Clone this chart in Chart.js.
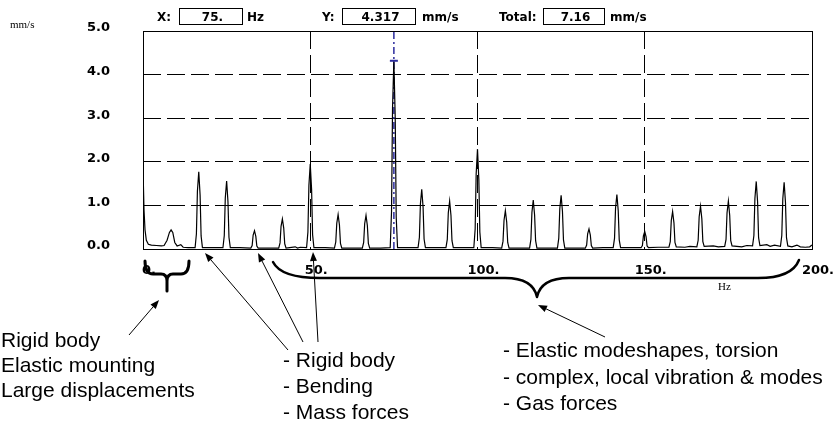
<!DOCTYPE html>
<html>
<head>
<meta charset="utf-8">
<script src="https://cdn.jsdelivr.net/npm/chart.js@4/dist/chart.umd.min.js"></script>
<style>
  html, body { margin: 0; padding: 0; background: #fff; }
</style>
</head>
<body>
<canvas id="spectrum" width="835" height="425"></canvas>
<script>
// Readout values shown in the header boxes
const cursorHz = 75;
const cursorMms = 4.317;
const totalMms = 7.16;

// Axis ticks
const xTicks = [0, 50, 100, 150, 200];
const yTicks = [0, 1, 2, 3, 4, 5];

// Spectrum trace (Hz / mm/s), roughly one row per peak
const spectrumHz = [
  0, 0.3, 0.6, 1.0, 1.6, 2.5, 4.0, 5.5,
  6.3, 7.2, 7.9, 8.4, 8.9, 9.5, 10.2, 11.3, 12.0, 13.5,
  15.57, 15.97, 16.27, 16.67, 17.07, 17.37, 17.77, 20.5,
  23.9, 24.3, 24.6, 25.0, 25.4, 25.7, 26.1, 29.0,
  32.23, 32.63, 32.93, 33.33, 33.73, 34.03, 34.43, 37.5,
  40.57, 40.97, 41.27, 41.67, 42.07, 42.37, 42.77, 45.5, 46.2, 47.0,
  48.9, 49.3, 49.6, 50.0, 50.4, 50.7, 51.1, 54.5,
  57.23, 57.63, 57.93, 58.33, 58.73, 59.03, 59.43, 62.5,
  65.57, 65.97, 66.27, 66.67, 67.07, 67.37, 67.77, 71.0,
  73.9, 74.3, 74.6, 75.0, 75.4, 75.7, 76.1, 79.0,
  82.23, 82.63, 82.93, 83.33, 83.73, 84.03, 84.43, 87.5,
  90.57, 90.97, 91.27, 91.67, 92.07, 92.37, 92.77, 96.0,
  98.9, 99.3, 99.6, 100.0, 100.4, 100.7, 101.1, 104.5,
  107.23, 107.63, 107.93, 108.33, 108.73, 109.03, 109.43, 112.5,
  115.57, 115.97, 116.27, 116.67, 117.07, 117.37, 117.77, 121.0,
  123.9, 124.3, 124.6, 125.0, 125.4, 125.7, 126.1, 129.5,
  132.23, 132.63, 132.93, 133.33, 133.73, 134.03, 134.43, 137.5,
  140.57, 140.97, 141.27, 141.67, 142.07, 142.37, 142.77, 146.0,
  148.9, 149.3, 149.6, 150.0, 150.4, 150.7, 151.1, 154.0,
  157.23, 157.63, 157.93, 158.33, 158.73, 159.03, 159.43, 162.0, 163.5,
  165.57, 165.97, 166.27, 166.67, 167.07, 167.37, 167.77, 170.5, 172.0,
  173.9, 174.3, 174.6, 175.0, 175.4, 175.7, 176.1, 179.0, 180.5,
  182.23, 182.63, 182.93, 183.33, 183.73, 184.03, 184.43, 186.5, 187.5, 188.8,
  190.57, 190.97, 191.27, 191.67, 192.07, 192.37, 192.77, 194.0, 195.5, 196.5, 198.0, 199.3, 200.0
];
const spectrumMms = [
  1.85, 0.90, 0.44, 0.20, 0.11, 0.09, 0.08, 0.07,
  0.08, 0.20, 0.38, 0.44, 0.38, 0.15, 0.07, 0.10, 0.04, 0.03,
  0.03, 0.35, 1.33, 1.77, 1.24, 0.30, 0.03, 0.03,
  0.03, 0.31, 1.17, 1.56, 1.09, 0.27, 0.03, 0.03,
  0.02, 0.08, 0.32, 0.42, 0.29, 0.07, 0.02, 0.02,
  0.02, 0.14, 0.52, 0.69, 0.48, 0.12, 0.02, 0.05, 0.02, 0.04,
  0.03, 0.39, 1.46, 1.95, 1.37, 0.33, 0.03, 0.03,
  0.02, 0.16, 0.59, 0.79, 0.55, 0.13, 0.02, 0.02,
  0.02, 0.15, 0.58, 0.77, 0.54, 0.13, 0.02, 0.02,
  0.03, 0.86, 3.24, 4.32, 3.02, 0.73, 0.03, 0.03,
  0.03, 0.27, 1.03, 1.37, 0.96, 0.23, 0.03, 0.03,
  0.03, 0.22, 0.83, 1.10, 0.77, 0.19, 0.03, 0.03,
  0.03, 0.46, 1.72, 2.29, 1.60, 0.39, 0.03, 0.03,
  0.02, 0.18, 0.66, 0.88, 0.62, 0.15, 0.02, 0.02,
  0.02, 0.22, 0.84, 1.12, 0.78, 0.19, 0.02, 0.02,
  0.02, 0.25, 0.92, 1.23, 0.86, 0.21, 0.02, 0.02,
  0.02, 0.09, 0.35, 0.46, 0.32, 0.08, 0.02, 0.03,
  0.03, 0.25, 0.94, 1.25, 0.88, 0.21, 0.03, 0.03,
  0.03, 0.08, 0.30, 0.40, 0.28, 0.07, 0.03, 0.04,
  0.04, 0.17, 0.65, 0.86, 0.60, 0.15, 0.05, 0.04, 0.06,
  0.05, 0.20, 0.74, 0.98, 0.69, 0.17, 0.06, 0.07, 0.05,
  0.06, 0.22, 0.83, 1.10, 0.77, 0.19, 0.07, 0.05, 0.08,
  0.07, 0.31, 1.16, 1.55, 1.09, 0.26, 0.08, 0.10, 0.06, 0.09,
  0.06, 0.31, 1.15, 1.53, 1.07, 0.26, 0.07, 0.05, 0.09, 0.05, 0.04, 0.05, 0.09
];

const boldFont = '"DejaVu Sans", Arial, sans-serif';
const noteFont = '21px "Liberation Sans", Arial, sans-serif';
const cursorColor = '#2c2c9e';

function setTicks(list) {
  return scale => { scale.ticks = list.map(v => ({ value: v })); };
}

function arrow(ctx, x1, y1, x2, y2) {
  const a = Math.atan2(y2 - y1, x2 - x1);
  const len = 9, half = 3.5;
  ctx.beginPath();
  ctx.moveTo(x1, y1);
  ctx.lineTo(x2 - Math.cos(a) * len, y2 - Math.sin(a) * len);
  ctx.stroke();
  ctx.beginPath();
  ctx.moveTo(x2, y2);
  ctx.lineTo(x2 - Math.cos(a) * len + Math.sin(a) * half, y2 - Math.sin(a) * len - Math.cos(a) * half);
  ctx.lineTo(x2 - Math.cos(a) * len - Math.sin(a) * half, y2 - Math.sin(a) * len + Math.cos(a) * half);
  ctx.closePath();
  ctx.fill();
}

// Frame, header readout and the annotations below the axis
const extras = {
  id: 'extras',
  afterDraw(chart) {
    const ctx = chart.ctx;
    const a = chart.chartArea;
    ctx.save();

    // plot frame
    ctx.strokeStyle = '#000';
    ctx.lineWidth = 1;
    ctx.strokeRect(Math.round(a.left) + 0.5, Math.round(a.top) + 0.5,
      Math.round(a.right - a.left), Math.round(a.bottom - a.top));

    // header
    ctx.fillStyle = '#000';
    ctx.font = 'bold 12px ' + boldFont;
    ctx.textBaseline = 'alphabetic';
    const box = (x, w, txt) => {
      ctx.strokeRect(x + 0.5, 8.5, w, 16);
      ctx.textAlign = 'center';
      ctx.fillText(txt, x + w / 2 + 2, 21);
      ctx.textAlign = 'left';
    };
    ctx.textAlign = 'left';
    ctx.fillText('X:', 157, 21);
    box(179, 63, cursorHz + '.');
    ctx.fillText('Hz', 247, 21);
    ctx.fillText('Y:', 322, 21);
    box(342, 73, cursorMms.toFixed(3));
    ctx.fillText('mm/s', 422, 21);
    ctx.fillText('Total:', 499, 21);
    box(543, 61, totalMms.toFixed(2));
    ctx.fillText('mm/s', 610, 21);

    // unit labels
    ctx.font = '11px "Liberation Serif", "Times New Roman", serif';
    ctx.fillText('mm/s', 10, 28);
    ctx.fillText('Hz', 718, 290);

    // braces
    ctx.lineCap = 'round';
    ctx.lineJoin = 'round';
    ctx.lineWidth = 3;
    ctx.beginPath();
    ctx.moveTo(145, 261);
    ctx.quadraticCurveTo(145, 274, 153, 274);
    ctx.lineTo(161, 274);
    ctx.quadraticCurveTo(167, 274, 167, 281);
    ctx.lineTo(167, 291);
    ctx.moveTo(167, 281);
    ctx.quadraticCurveTo(167, 274, 173, 274);
    ctx.lineTo(181, 274);
    ctx.quadraticCurveTo(189, 274, 189, 261);
    ctx.stroke();

    ctx.lineWidth = 2.5;
    ctx.beginPath();
    ctx.moveTo(273, 262);
    ctx.quadraticCurveTo(281, 278, 320, 278);
    ctx.lineTo(505, 278);
    ctx.quadraticCurveTo(533, 278, 537, 297);
    ctx.quadraticCurveTo(541, 278, 569, 278);
    ctx.lineTo(758, 278);
    ctx.quadraticCurveTo(792, 278, 799, 260);
    ctx.stroke();

    // arrows
    ctx.lineWidth = 1;
    ctx.lineCap = 'butt';
    arrow(ctx, 129, 335, 159, 300);
    arrow(ctx, 288, 350, 205, 253);
    arrow(ctx, 303, 342, 258, 253);
    arrow(ctx, 318, 342, 313, 252);
    arrow(ctx, 605, 337, 538, 305);

    // notes
    ctx.font = noteFont;
    ctx.fillText('Rigid body', 1, 347);
    ctx.fillText('Elastic mounting', 1, 372);
    ctx.fillText('Large displacements', 1, 397);
    ctx.fillText('- Rigid body', 283, 367);
    ctx.fillText('- Bending', 283, 393);
    ctx.fillText('- Mass forces', 283, 419);
    ctx.fillText('- Elastic modeshapes, torsion', 503, 357);
    ctx.fillText('- complex, local vibration & modes', 503, 384);
    ctx.fillText('- Gas forces', 503, 410);

    ctx.restore();
  }
};

const tickFont = { family: boldFont, size: 13, weight: 'bold' };
const yMax = yTicks[yTicks.length - 1];

new Chart(document.getElementById('spectrum'), {
  type: 'line',
  data: {
    datasets: [
      {
        data: spectrumHz.map((x, i) => ({ x: x, y: spectrumMms[i] })),
        borderColor: '#000',
        borderWidth: 1.2,
        pointRadius: 0,
        tension: 0,
        order: 1
      },
      {
        data: [{ x: cursorHz, y: 0 }, { x: cursorHz, y: yMax }],
        borderColor: cursorColor,
        borderWidth: 1.5,
        borderDash: [7, 3, 2, 3],
        pointRadius: 0,
        order: 2
      },
      {
        type: 'scatter',
        data: [{ x: cursorHz, y: cursorMms }],
        pointStyle: 'line',
        pointRadius: 4,
        borderWidth: 2,
        borderColor: cursorColor,
        order: 0
      }
    ]
  },
  options: {
    responsive: false,
    animation: false,
    layout: { padding: { top: 31, right: 23, left: 0, bottom: 0 } },
    plugins: { legend: { display: false }, tooltip: { enabled: false } },
    scales: {
      x: {
        type: 'linear',
        min: xTicks[0],
        max: xTicks[xTicks.length - 1],
        afterBuildTicks: setTicks(xTicks),
        afterFit: s => { s.height = 176; s.paddingLeft = 0; s.paddingRight = 0; },
        grid: { color: '#000', lineWidth: 1, drawTicks: false },
        border: { display: false, dash: [18, 6] },
        ticks: {
          padding: 14,
          labelOffset: 6,
          maxRotation: 0,
          autoSkip: false,
          color: '#000',
          font: tickFont,
          callback: v => v + '.'
        }
      },
      y: {
        min: yTicks[0],
        max: yMax,
        afterBuildTicks: setTicks(yTicks),
        afterFit: s => { s.width = 143; s.paddingTop = 0; s.paddingBottom = 0; },
        grid: { color: '#000', lineWidth: 1, drawTicks: false },
        border: { display: false, dash: [18, 6] },
        ticks: {
          padding: 33,
          labelOffset: -3,
          color: '#000',
          font: tickFont,
          callback: v => v.toFixed(1)
        }
      }
    }
  },
  plugins: [extras]
});
</script>
</body>
</html>
